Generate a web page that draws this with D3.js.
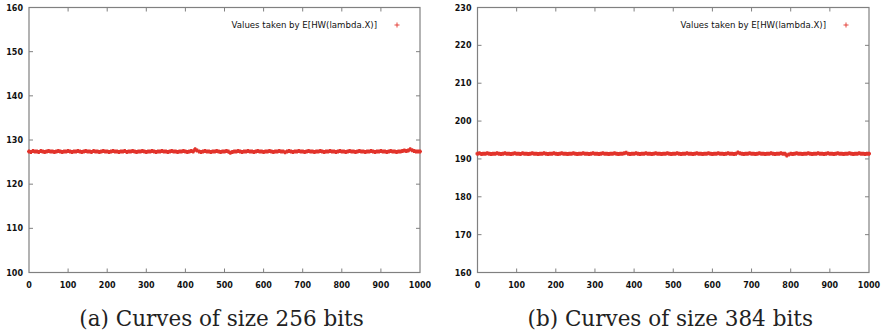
<!DOCTYPE html>
<html>
<head>
<meta charset="utf-8">
<script src="https://cdn.jsdelivr.net/npm/d3@7"></script>
<style>
  body { margin: 0; background: #fff; }
  svg { display: block; }
  .tick-label { font-family: "DejaVu Sans", sans-serif; font-size: 8px; font-weight: bold; fill: #111; }
  .legend-label { font-family: "DejaVu Sans", sans-serif; font-size: 8.6px; fill: #111; }
  .caption { font-family: "DejaVu Serif", serif; font-size: 21.5px; fill: #222; }
</style>
</head>
<body>
<div id="chart"></div>
<script>
// sample spacing along x (one reading every 5 steps, 0..1000)
const xStep = 5;

const xTicks = [0, 100, 200, 300, 400, 500, 600, 700, 800, 900, 1000];
const yTicks256 = [100, 110, 120, 130, 140, 150, 160];
const yTicks384 = [160, 170, 180, 190, 200, 210, 220, 230];

const legendText = 'Values taken by E[HW(lambda.X)]';
const captions = ['(a) Curves of size 256 bits', '(b) Curves of size 384 bits'];

// E[HW(lambda.X)] readings, 256-bit curves
const values256 = [
  127.4,127.3,127.5,127.4,127.4,127.3,127.5,127.4,127.3,127.4,127.5,127.4,127.4,127.3,127.4,127.5,127.4,127.3,127.4,127.4,
  127.5,127.4,127.3,127.4,127.4,127.5,127.4,127.3,127.4,127.5,127.4,127.4,127.3,127.5,127.4,127.4,127.3,127.4,127.5,127.4,
  127.4,127.3,127.4,127.5,127.4,127.4,127.3,127.4,127.4,127.5,127.3,127.4,127.4,127.5,127.4,127.3,127.4,127.4,127.5,127.4,
  127.3,127.4,127.4,127.5,127.4,127.3,127.4,127.4,127.5,127.4,127.4,127.3,127.4,127.5,127.4,127.4,127.3,127.4,127.4,127.5,
  127.4,127.3,127.4,127.5,127.4,127.9,127.6,127.4,127.3,127.4,127.5,127.4,127.4,127.3,127.4,127.4,127.5,127.4,127.3,127.4,
  127.4,127.5,127.4,127.1,127.3,127.4,127.4,127.5,127.4,127.3,127.4,127.4,127.5,127.4,127.4,127.3,127.4,127.5,127.4,127.4,
  127.3,127.4,127.4,127.5,127.4,127.3,127.4,127.4,127.5,127.4,127.4,127.2,127.4,127.5,127.4,127.3,127.4,127.4,127.5,127.4,
  127.4,127.3,127.4,127.5,127.4,127.4,127.3,127.4,127.4,127.5,127.4,127.3,127.4,127.4,127.5,127.4,127.4,127.3,127.4,127.5,
  127.4,127.4,127.3,127.4,127.5,127.4,127.4,127.3,127.4,127.5,127.4,127.4,127.3,127.4,127.4,127.5,127.4,127.3,127.4,127.4,
  127.5,127.4,127.4,127.3,127.4,127.5,127.4,127.4,127.3,127.4,127.4,127.5,127.6,127.5,127.6,127.9,127.7,127.5,127.4,127.4,
  127.4
];

// E[HW(lambda.X)] readings, 384-bit curves
const values384 = [
  191.4,191.5,191.3,191.4,191.4,191.5,191.4,191.3,191.4,191.4,191.5,191.4,191.3,191.4,191.5,191.4,191.4,191.3,191.4,191.5,
  191.4,191.4,191.3,191.5,191.4,191.4,191.3,191.4,191.5,191.4,191.4,191.3,191.4,191.4,191.5,191.4,191.3,191.4,191.4,191.5,
  191.4,191.3,191.4,191.5,191.4,191.4,191.3,191.4,191.4,191.5,191.4,191.3,191.4,191.4,191.5,191.4,191.4,191.3,191.4,191.5,
  191.4,191.4,191.3,191.4,191.5,191.4,191.4,191.3,191.4,191.4,191.5,191.4,191.3,191.4,191.4,191.5,191.6,191.4,191.3,191.4,
  191.4,191.5,191.4,191.3,191.4,191.4,191.5,191.4,191.4,191.3,191.4,191.5,191.4,191.4,191.3,191.4,191.4,191.5,191.4,191.3,
  191.4,191.4,191.5,191.4,191.3,191.4,191.4,191.5,191.4,191.4,191.3,191.4,191.5,191.4,191.4,191.3,191.4,191.4,191.5,191.4,
  191.3,191.4,191.4,191.5,191.4,191.4,191.3,191.4,191.5,191.4,191.4,191.3,191.4,191.7,191.5,191.4,191.3,191.4,191.4,191.5,
  191.4,191.4,191.3,191.4,191.5,191.4,191.4,191.3,191.4,191.4,191.5,191.4,191.3,191.4,191.4,191.5,191.4,191.4,190.9,191.2,
  191.4,191.3,191.4,191.5,191.4,191.4,191.3,191.4,191.4,191.5,191.4,191.3,191.4,191.4,191.5,191.4,191.4,191.3,191.4,191.5,
  191.4,191.4,191.3,191.4,191.5,191.4,191.4,191.3,191.4,191.4,191.5,191.4,191.3,191.4,191.4,191.5,191.4,191.4,191.3,191.4,
  191.4
];

const width = 885;
const height = 336;
const frameColor = '#808080';
const pointColor = '#e2332b';

const svg = d3.select('#chart')
  .append('svg')
  .attr('width', width)
  .attr('height', height);

// draws one gnuplot-style panel with mirrored inward ticks
const drawPanel = (left, right, yTicks, values, caption) => {
  const top = 7.5;
  const bottom = 272.5;

  const x = d3.scaleLinear().domain([0, 1000]).range([left, right]);
  const y = d3.scaleLinear().domain(d3.extent(yTicks)).range([bottom, top]);

  const g = svg.append('g');
  const tickLen = 4;

  // frame
  g.append('rect')
    .attr('x', left)
    .attr('y', top)
    .attr('width', right - left)
    .attr('height', bottom - top)
    .attr('fill', 'none')
    .attr('stroke', frameColor)
    .attr('stroke-width', 1.2);

  // x ticks, bottom and top
  xTicks.slice(1, -1).forEach(t => {
    g.append('line')
      .attr('x1', x(t)).attr('x2', x(t))
      .attr('y1', bottom).attr('y2', bottom - tickLen)
      .attr('stroke', frameColor);
    g.append('line')
      .attr('x1', x(t)).attr('x2', x(t))
      .attr('y1', top).attr('y2', top + tickLen)
      .attr('stroke', frameColor);
  });

  // y ticks, left and right
  yTicks.slice(1, -1).forEach(t => {
    g.append('line')
      .attr('x1', left).attr('x2', left + tickLen)
      .attr('y1', y(t)).attr('y2', y(t))
      .attr('stroke', frameColor);
    g.append('line')
      .attr('x1', right).attr('x2', right - tickLen)
      .attr('y1', y(t)).attr('y2', y(t))
      .attr('stroke', frameColor);
  });

  g.selectAll('.xlabel')
    .data(xTicks)
    .enter()
    .append('text')
    .attr('class', 'tick-label')
    .attr('x', d => x(d))
    .attr('y', bottom + 15)
    .attr('text-anchor', 'middle')
    .text(d => d);

  g.selectAll('.ylabel')
    .data(yTicks)
    .enter()
    .append('text')
    .attr('class', 'tick-label')
    .attr('x', left - 6)
    .attr('y', d => y(d) + 3)
    .attr('text-anchor', 'end')
    .text(d => d);

  // points drawn as '+' markers
  const plus = (cx, cy, s) => 'M' + (cx - s) + ',' + cy + 'H' + (cx + s) + 'M' + cx + ',' + (cy - s) + 'V' + (cy + s);
  const path = values.map((v, i) => plus(x(i * xStep), y(v), 2)).join('');

  g.append('path')
    .attr('d', path)
    .attr('fill', 'none')
    .attr('stroke', pointColor)
    .attr('stroke-width', 2.2);

  // legend
  const legendX = right - 23;
  const legendY = 25;
  g.append('text')
    .attr('class', 'legend-label')
    .attr('x', legendX - 20)
    .attr('y', legendY + 3)
    .attr('text-anchor', 'end')
    .text(legendText);
  g.append('path')
    .attr('d', plus(legendX, legendY, 2.5))
    .attr('stroke', pointColor)
    .attr('stroke-width', 0.9);

  g.append('text')
    .attr('class', 'caption')
    .attr('x', (left + right) / 2 - 3)
    .attr('y', 326)
    .attr('text-anchor', 'middle')
    .text(caption);
};

drawPanel(29, 420, yTicks256, values256, captions[0]);
drawPanel(477.5, 869, yTicks384, values384, captions[1]);
</script>
</body>
</html>
